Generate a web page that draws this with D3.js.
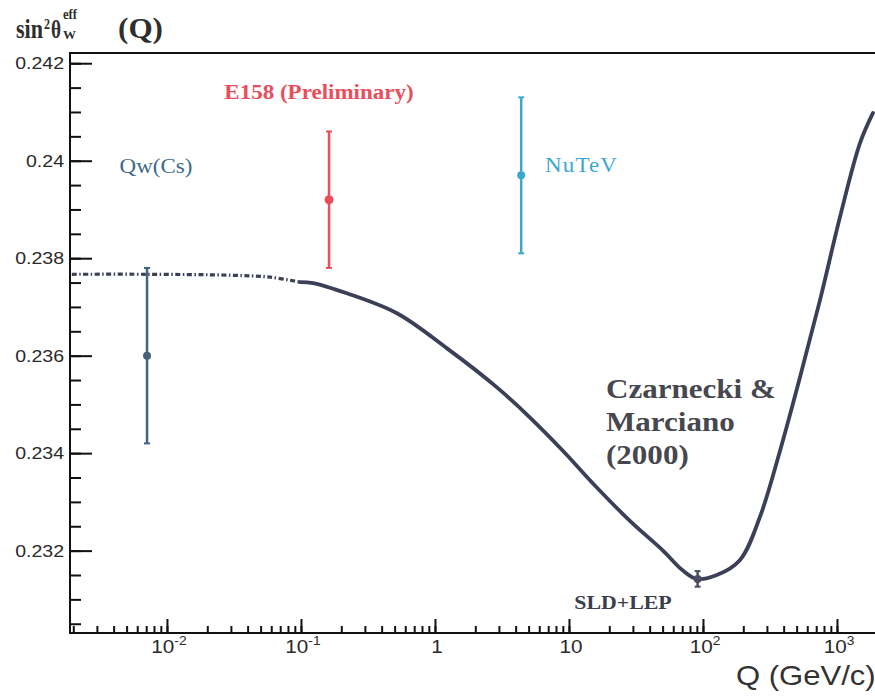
<!DOCTYPE html>
<html>
<head>
<meta charset="utf-8">
<script src="https://cdn.jsdelivr.net/npm/d3@7"></script>
<style>
  body { margin: 0; background: #fff; }
  svg { display: block; }
</style>
</head>
<body>
<svg id="chart"></svg>
<script>

const width = 875;
const height = 698;
const plotLeft = 70;
const plotTop = 53;
const plotBottom = 633;

// theory curve, Czarnecki & Marciano (2000)
const curveQ = [0.00195, 0.007, 0.03, 0.059, 0.098, 0.123, 0.22, 0.52, 1.23, 2.9, 5.12, 9.0, 16.2, 28.5, 50.3, 70.9, 90.2, 127, 189, 266, 376, 529, 747, 1052, 1485, 1857];
const curveS = [0.23767, 0.23767, 0.23765, 0.23761, 0.23751, 0.23749, 0.23728, 0.23687, 0.23615, 0.23535, 0.23473, 0.23405, 0.23329, 0.23261, 0.23200, 0.23159, 0.23142, 0.23150, 0.23181, 0.23269, 0.23405, 0.23555, 0.23714, 0.23884, 0.24036, 0.24098];
const dashedUpTo = 0.098;

// measurements
const measNames = ["Qw(Cs)", "E158 (Preliminary)", "NuTeV", "SLD+LEP"];
const measQ = [0.0071, 0.162, 4.4, 91.2];
const measS = [0.2360, 0.2392, 0.2397, 0.23142];
const measErr = [0.0018, 0.0014, 0.0016, 0.00016];
const measColors = ["#44627c", "#ea4d5c", "#3ca7d0", "#4a4d63"];

const yTicks = [0.232, 0.234, 0.236, 0.238, 0.24, 0.242];
const yTickLabels = ["0.232", "0.234", "0.236", "0.238", "0.24", "0.242"];
const xTicks = [0.01, 0.1, 1, 10, 100, 1000];
const xTickBase = ["10", "10", "1", "10", "10", "10"];
const xTickExp = ["-2", "-1", "", "", "2", "3"];

const serif = "'Liberation Serif', 'Times New Roman', serif";
const sans = "'Liberation Sans', Arial, sans-serif";
const stretch = 1.15;

let canva = d3.select("#chart")
              .attr("width", width)
              .attr("height", height)

let xScale = d3.scaleLog()
               .domain([0.00189, 1922])
               .range([plotLeft, width])

let yScale = d3.scaleLinear()
               .domain([0.23031, 0.24221])
               .range([plotBottom, plotTop])

// minor tick values
let xMinor = [];
for (let e = -3; e <= 3; e++) {
    for (let m = 1; m <= 9; m++) {
        let v = m * Math.pow(10, e);
        if (v >= 0.00189 && v <= 1922) xMinor.push(v)
    }
}
let yMinor = d3.range(0, 24).map(i => 0.2305 + i * 0.0005).filter(v => v <= 0.2421);

let xAxisMinor = d3.axisBottom(xScale).tickValues(xMinor).tickSize(-7).tickFormat("");
let xAxisMajor = d3.axisBottom(xScale).tickValues(xTicks).tickSize(-14).tickFormat("");
let yAxisMinor = d3.axisLeft(yScale).tickValues(yMinor).tickSize(-11).tickFormat("");
let yAxisMajor = d3.axisLeft(yScale).tickValues(yTicks).tickSize(-22).tickFormat("");

[xAxisMinor, xAxisMajor].forEach(ax => {
    canva.append("g")
         .attr("class", "x-axis")
         .attr("transform", `translate(0, ${plotBottom})`)
         .call(ax)
})
;[yAxisMinor, yAxisMajor].forEach(ax => {
    canva.append("g")
         .attr("class", "y-axis")
         .attr("transform", `translate(${plotLeft}, 0)`)
         .call(ax)
})
canva.selectAll(".x-axis .domain, .y-axis .domain").remove();
canva.selectAll(".x-axis line, .y-axis line")
     .attr("stroke", "#111")
     .attr("stroke-width", 2)

// frame
canva.append("path")
     .attr("d", `M${width},${plotTop}H${plotLeft}V${plotBottom}H${width}`)
     .attr("fill", "none")
     .attr("stroke", "#111")
     .attr("stroke-width", 2)

// y tick labels
canva.selectAll(".ylab")
     .data(yTicks)
     .enter()
     .append("text")
     .attr("class", "ylab")
     .attr("transform", d => `translate(64, ${yScale(d) + 6}) scale(${stretch},1)`)
     .attr("text-anchor", "end")
     .attr("font-family", sans)
     .attr("font-size", 17)
     .attr("fill", "#2a2a2a")
     .text((d, i) => yTickLabels[i])

// x tick labels with exponents
let xl = canva.selectAll(".xlab")
              .data(xTicks)
              .enter()
              .append("text")
              .attr("class", "xlab")
              .attr("transform", d => `translate(${xScale(d) + 2}, 653) scale(${stretch},1)`)
              .attr("text-anchor", "middle")
              .attr("font-family", sans)
              .attr("font-size", 18)
              .attr("fill", "#2a2a2a")
xl.append("tspan").text((d, i) => xTickBase[i])
xl.append("tspan")
  .attr("font-size", 12)
  .attr("dy", -8)
  .text((d, i) => xTickExp[i])

// axis titles
canva.append("text")
     .attr("transform", `translate(736, 685) scale(${stretch},1)`)
     .attr("font-family", sans)
     .attr("font-size", 27)
     .attr("fill", "#333")
     .text("Q (GeV/c)")

const titleParts = [
    { t: "sin", x: 16, y: 38, size: 28, len: 27 },
    { t: "2", x: 44, y: 29, size: 14, len: 6 },
    { t: "θ", x: 51, y: 38, size: 26, len: 10 },
    { t: "eff", x: 63, y: 19, size: 14, len: 14 },
    { t: "W", x: 63, y: 39, size: 13, len: 13 },
    { t: "(Q)", x: 118, y: 38, size: 29, len: 45 }
];
canva.append("g")
     .attr("font-family", serif)
     .attr("font-weight", "bold")
     .attr("fill", "#2e2e2e")
     .selectAll("text")
     .data(titleParts)
     .enter()
     .append("text")
     .attr("x", d => d.x)
     .attr("y", d => d.y)
     .attr("font-size", d => d.size)
     .attr("textLength", d => d.len)
     .attr("lengthAdjust", "spacingAndGlyphs")
     .text(d => d.t)

// theory curve
let pts = curveQ.map((q, i) => [q, curveS[i]]);
let line = d3.line()
             .x(d => xScale(d[0]))
             .y(d => yScale(d[1]))
             .curve(d3.curveCatmullRom.alpha(0.5))

canva.append("path")
     .attr("d", line(pts.filter(d => d[0] <= dashedUpTo)))
     .attr("fill", "none")
     .attr("stroke", "#3b3f58")
     .attr("stroke-width", 3.2)
     .attr("stroke-dasharray", "5,2.5,1.5,2.5")

canva.append("path")
     .attr("d", line(pts.filter(d => d[0] >= dashedUpTo)))
     .attr("fill", "none")
     .attr("stroke", "#3b3f58")
     .attr("stroke-width", 3.8)
     .attr("stroke-linecap", "round")

// measurements with error bars
let meas = measQ.map((q, i) => ({ name: measNames[i], q: q, s: measS[i], err: measErr[i], color: measColors[i] }));

let mg = canva.selectAll(".meas")
              .data(meas)
              .enter()
              .append("g")
              .attr("class", "meas")

mg.append("line")
  .attr("x1", d => xScale(d.q))
  .attr("x2", d => xScale(d.q))
  .attr("y1", d => yScale(d.s - d.err))
  .attr("y2", d => yScale(d.s + d.err))
  .attr("stroke", d => d.color)
  .attr("stroke-width", 2.5)

;[-1, 1].forEach(sign => {
    mg.append("line")
      .attr("x1", d => xScale(d.q) - 3)
      .attr("x2", d => xScale(d.q) + 3)
      .attr("y1", d => yScale(d.s + sign * d.err))
      .attr("y2", d => yScale(d.s + sign * d.err))
      .attr("stroke", d => d.color)
      .attr("stroke-width", 2)
})

mg.append("circle")
  .attr("cx", d => xScale(d.q))
  .attr("cy", d => yScale(d.s))
  .attr("r", d => d.name === "E158 (Preliminary)" ? 4.5 : 4)
  .attr("fill", d => d.color)

// labels
const labelStyle = [
    { x: 156, y: 173, anchor: "middle", weight: "normal", color: "#3d6a88", spacing: 0 },
    { x: 319, y: 99, anchor: "middle", weight: "bold", color: "#ea4d5c", spacing: 0 },
    { x: 545, y: 172, anchor: "start", weight: "normal", color: "#3ca7d0", spacing: 1 },
    { x: 623, y: 609, anchor: "middle", weight: "bold", color: "#3b3e4e", spacing: 0 }
];
canva.selectAll(".mlab")
     .data(meas)
     .enter()
     .append("text")
     .attr("class", "mlab")
     .attr("transform", (d, i) => `translate(${labelStyle[i].x}, ${labelStyle[i].y}) scale(${stretch},1)`)
     .attr("text-anchor", (d, i) => labelStyle[i].anchor)
     .attr("font-family", serif)
     .attr("font-weight", (d, i) => labelStyle[i].weight)
     .attr("letter-spacing", (d, i) => labelStyle[i].spacing)
     .attr("font-size", (d, i) => i === 3 ? 19 : 20)
     .attr("fill", (d, i) => labelStyle[i].color)
     .text(d => d.name)

let theoryLabel = ["Czarnecki &", "Marciano", "(2000)"];
canva.selectAll(".tlab")
     .data(theoryLabel)
     .enter()
     .append("text")
     .attr("class", "tlab")
     .attr("transform", (d, i) => `translate(606, ${398 + i * 33}) scale(${stretch},1)`)
     .attr("font-family", serif)
     .attr("font-weight", "bold")
     .attr("font-size", 27)
     .attr("fill", "#46474f")
     .text(d => d)

</script>
</body>
</html>
